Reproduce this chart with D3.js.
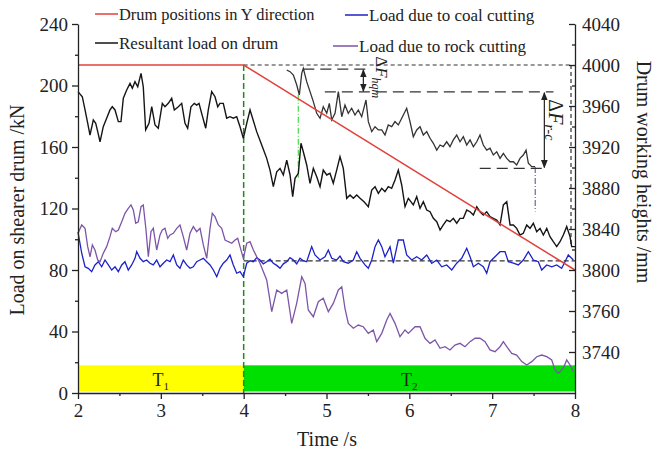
<!DOCTYPE html>
<html><head><meta charset="utf-8">
<script src="https://cdn.jsdelivr.net/npm/d3@7"></script>
<style>
body{margin:0;background:#fff}
svg{display:block}
svg text{font-family:'Liberation Serif',serif !important;fill:#222}
</style>
</head><body>
<svg id="c" width="659" height="453" font-family="Liberation Serif"></svg>
<script>
// ---------- data ----------
const xTicks=[2,3,4,5,6,7,8];
const xMinor=[2.5,3.5,4.5,5.5,6.5,7.5];
const leftTicks=[0,40,80,120,160,200,240];
const leftMinor=[20,60,100,140,180,220];
const rightTicks=[3720,3760,3800,3840,3880,3920,3960,4000,4040];
const rightTickLabels=["3740","3760","3800","3840","3880","3920","3960","4000","4040"];
const rightMinor=[3740,3780,3820,3860,3900,3940,3980,4020];

const drumTime=[2,4,8];
const drumHeight=[4000,4000,3800];

const resultant=[[2.0,196],[2.052,192.7],[2.085,184.1],[2.117,175.6],[2.145,167.8],[2.185,177.6],[2.214,175.4],[2.238,170],[2.266,163.4],[2.305,173.2],[2.346,178.7],[2.386,184.1],[2.414,186.2],[2.447,184.1],[2.487,176.5],[2.519,176.5],[2.547,191.7],[2.588,197.1],[2.628,201.4],[2.656,198.2],[2.688,202.5],[2.721,199.2],[2.761,207.9],[2.788,199.2],[2.817,171.1],[2.857,175.4],[2.89,186.2],[2.93,174.3],[2.969,172.2],[3.018,188.4],[3.05,186.2],[3.09,188.4],[3.131,191.7],[3.163,184.1],[3.211,186.2],[3.252,188.4],[3.292,175.4],[3.324,172.2],[3.364,186.2],[3.404,188.4],[3.433,187.3],[3.461,188.4],[3.493,181.9],[3.542,172.2],[3.573,184.1],[3.614,196],[3.654,192.7],[3.687,186.2],[3.714,188.4],[3.754,188.4],[3.795,178.7],[3.835,179.7],[3.875,178.7],[3.916,179.7],[3.956,173.2],[3.996,165.7],[4.037,175.4],[4.077,184.1],[4.157,170],[4.218,161.3],[4.278,152.6],[4.318,145],[4.358,134.2],[4.399,143.9],[4.439,146.1],[4.479,141.8],[4.52,151.5],[4.56,141.8],[4.592,127.7],[4.62,139.6],[4.66,142.9],[4.692,162.4],[4.72,156.9],[4.761,148.3],[4.801,136.4],[4.841,146.1],[4.882,140.7],[4.922,134.2],[4.961,145],[5.003,141.8],[5.042,142.9],[5.082,136.4],[5.123,145],[5.163,153.7],[5.203,146.1],[5.244,126.6],[5.284,128.8],[5.324,126.6],[5.365,128.8],[5.405,126.6],[5.453,124.4],[5.505,121.2],[5.546,132],[5.586,134.2],[5.626,129.9],[5.667,133.1],[5.706,130.9],[5.746,134.2],[5.787,133.1],[5.827,138.5],[5.867,145],[5.908,135.3],[5.948,121.2],[5.988,126.6],[6.048,122.3],[6.089,127.7],[6.129,120.1],[6.169,124.4],[6.21,119],[6.25,117.9],[6.29,113.6],[6.331,111.4],[6.371,106],[6.41,109.3],[6.451,112.5],[6.491,111.4],[6.531,113.6],[6.572,110.4],[6.612,113.6],[6.652,113.6],[6.693,119],[6.733,117.9],[6.773,115.8],[6.814,121.2],[6.853,117.9],[6.893,115.8],[6.934,117.9],[6.974,114.7],[7.014,113.6],[7.055,112.5],[7.095,109.3],[7.135,122.3],[7.176,124.4],[7.216,109.3],[7.256,109.3],[7.296,107.1],[7.336,102.8],[7.376,103.9],[7.417,109.3],[7.457,107.1],[7.497,110.4],[7.538,104.9],[7.578,107.1],[7.618,102.8],[7.659,107.1],[7.698,101.7],[7.738,98.4],[7.779,95.2],[7.819,98.4],[7.859,102.8],[7.9,108.2],[7.94,101.7],[7.96,95.2],[8.0,95.2]];

const shiftedResultant=[[4.52,210.1],[4.56,209],[4.6,206.8],[4.641,200.3],[4.672,193.8],[4.701,207.9],[4.72,211.2],[4.761,202.5],[4.801,196],[4.841,189.5],[4.882,181.9],[4.922,178.7],[4.961,186.2],[5.003,181.9],[5.034,188.4],[5.063,177.6],[5.103,181.9],[5.143,196],[5.184,179.7],[5.223,187.3],[5.263,181.9],[5.304,185.2],[5.344,180.8],[5.384,184.1],[5.425,179.7],[5.477,190.6],[5.505,176.5],[5.546,170],[5.586,173.2],[5.626,171.1],[5.667,171.1],[5.706,167.8],[5.746,174.3],[5.787,173.2],[5.827,176.5],[5.867,174.3],[5.908,178.7],[5.968,185.2],[6.008,176.5],[6.048,166.7],[6.089,171.1],[6.129,173.2],[6.169,167.8],[6.21,170],[6.25,165.7],[6.29,162.4],[6.331,158],[6.371,161.3],[6.41,160.2],[6.451,163.4],[6.491,160.2],[6.531,164.6],[6.572,167.8],[6.612,163.4],[6.652,166.7],[6.693,161.3],[6.733,164.6],[6.773,160.2],[6.814,163.4],[6.853,167.8],[6.893,161.3],[6.934,158],[6.974,159.2],[7.014,154.8],[7.055,156.9],[7.095,152.6],[7.135,155.9],[7.176,152.6],[7.216,150.4],[7.256,150.4],[7.296,148.3],[7.336,152.6],[7.376,154.8],[7.409,158],[7.437,149.4],[7.478,147.2],[7.518,147.2]];

const coalLoad=[[2.0,104.7],[2.045,90.9],[2.085,82.1],[2.124,81.1],[2.165,78.9],[2.205,83.3],[2.245,85.4],[2.286,82.1],[2.326,86.5],[2.366,83.3],[2.407,80],[2.447,82.1],[2.487,78.9],[2.528,83.3],[2.567,85.4],[2.607,80],[2.648,83.3],[2.688,87.6],[2.709,91.9],[2.749,87.6],[2.788,85.4],[2.829,86.5],[2.869,84.4],[2.909,83.3],[2.95,86.5],[2.99,82.1],[3.03,84.4],[3.071,86.5],[3.111,85.4],[3.151,89.8],[3.192,83.3],[3.231,81.1],[3.271,86.5],[3.312,83.3],[3.352,81.1],[3.392,82.1],[3.433,85.4],[3.473,86.5],[3.513,87.6],[3.554,85.4],[3.594,83.3],[3.634,80],[3.675,75.6],[3.714,81.1],[3.754,84.4],[3.795,86.5],[3.835,89.8],[3.875,83.3],[3.916,77.9],[3.956,78.9],[3.996,75.6],[4.037,84.4],[4.077,86],[4.117,85.4],[4.157,88],[4.197,86.5],[4.237,84],[4.278,85.4],[4.318,87],[4.358,84.4],[4.399,83],[4.439,81.1],[4.479,84],[4.52,85.4],[4.56,88],[4.6,86.5],[4.64,84],[4.68,87.6],[4.72,86],[4.761,85.4],[4.821,95.2],[4.861,89.8],[4.922,86.5],[4.982,88.6],[5.022,93],[5.063,87.6],[5.123,86.5],[5.163,89],[5.203,85.4],[5.263,84.4],[5.324,86.5],[5.365,91.9],[5.405,87.6],[5.465,83.3],[5.505,81.1],[5.546,86.5],[5.586,95.2],[5.626,99.5],[5.667,95.2],[5.706,88.6],[5.767,95.2],[5.807,84.4],[5.867,99.5],[5.927,99.5],[5.968,89.8],[6.029,86.5],[6.089,88.6],[6.149,86.5],[6.21,89.8],[6.27,84.4],[6.331,86.5],[6.391,82.1],[6.451,83.3],[6.512,80],[6.572,84.4],[6.632,87.6],[6.693,94.1],[6.733,88.6],[6.773,82.1],[6.833,84.4],[6.893,82.1],[6.934,77.9],[6.974,85.4],[7.034,88.6],[7.095,91.9],[7.155,91.9],[7.195,85.4],[7.256,84.4],[7.316,83.3],[7.376,86.5],[7.437,91.9],[7.497,86.5],[7.557,85.4],[7.598,80],[7.659,83.3],[7.719,82.1],[7.779,83.3],[7.839,81.1],[7.879,85.4],[7.919,89.8],[7.98,86.5]];

const rockLoad=[[2.0,103.9],[2.045,109.3],[2.085,107.1],[2.117,95.2],[2.145,88.6],[2.173,96.3],[2.205,93],[2.238,86.5],[2.266,85.4],[2.305,90.9],[2.346,95.2],[2.386,101.7],[2.414,107.1],[2.455,104.9],[2.487,106],[2.528,111.4],[2.567,116.9],[2.607,120.1],[2.64,122.3],[2.668,119],[2.697,110.4],[2.728,111.4],[2.761,121.2],[2.788,122.3],[2.821,106],[2.849,88.6],[2.881,104.9],[2.909,107.1],[2.95,93],[2.99,102.8],[3.018,106],[3.05,107.1],[3.083,100.6],[3.111,102.8],[3.151,103.9],[3.192,107.1],[3.231,109.3],[3.271,101.7],[3.312,93],[3.352,103.9],[3.392,108.2],[3.433,104.9],[3.473,107.1],[3.513,96.3],[3.554,87.6],[3.594,107.1],[3.621,116.9],[3.654,114.7],[3.694,109.3],[3.735,107.1],[3.775,99.5],[3.815,98.4],[3.856,97.4],[3.896,99.5],[3.928,100.6],[3.956,95.2],[3.996,87.6],[4.037,97.4],[4.077,98.4],[4.117,93],[4.197,84.4],[4.278,73.5],[4.339,52.9],[4.399,67],[4.459,64.8],[4.52,67],[4.58,45.3],[4.64,58.3],[4.701,75.6],[4.741,71.3],[4.78,54],[4.841,49.6],[4.901,59.4],[4.961,61.6],[5.022,52.9],[5.082,58.3],[5.143,67],[5.184,69.1],[5.223,55.1],[5.263,45.3],[5.324,42.1],[5.384,44.2],[5.444,43.1],[5.505,38.8],[5.565,41],[5.606,33.4],[5.667,38.8],[5.727,47.5],[5.767,51.8],[5.827,45.3],[5.887,36.6],[5.948,41],[5.988,38.8],[6.069,43.1],[6.129,43.1],[6.189,35.6],[6.25,32.3],[6.31,34.5],[6.371,29.1],[6.431,30.1],[6.491,28],[6.551,31.2],[6.612,32.3],[6.672,30.1],[6.733,33.4],[6.793,35.6],[6.853,35.6],[6.914,33.4],[6.974,28],[7.034,26.9],[7.095,30.1],[7.135,33.4],[7.176,30.1],[7.236,25.8],[7.296,24.7],[7.357,20.4],[7.417,18.2],[7.478,20.4],[7.538,23.6],[7.598,24.7],[7.659,23.6],[7.719,21.5],[7.759,15],[7.799,12.8],[7.859,16.1],[7.9,21.5],[7.94,18.2],[7.98,13.9]];

const phases=[{name:"T",sub:"1",start:2,end:4,low:1,high:18},{name:"T",sub:"2",start:4,end:8,low:1,high:18}];
const meanCoalLoad=86;
const legendNames=["Drum positions in Y direction","Resultant load on drum","Load due to coal cutting","Load due to rock cutting"];

// ---------- layout ----------
const FONT="'Liberation Serif', serif";
const svg=d3.select("#c");
const x=d3.scaleLinear().domain([2,8]).range([78,575]);
const yL=d3.scaleLinear().domain([0,240]).range([393,24]);
const yR=d3.scaleLinear().domain([3680,4040]).range([393,24]);
const COL={red:"#e2413b",black:"#151515",blue:"#1c22c8",purple:"#7d55a8",yellow:"#ffff00",green:"#00e000"};
const bandColors=[COL.yellow,COL.green];

// bands
phases.forEach((p,i)=>{
  svg.append("rect").attr("x",x(p.start)).attr("y",yL(p.high)).attr("width",x(p.end)-x(p.start)).attr("height",yL(p.low)-yL(p.high)).attr("fill",bandColors[i]);
  const t=svg.append("text").attr("x",x((p.start+p.end)/2)).attr("y",yL(p.low)-5).attr("text-anchor","middle").style("font-size","18px");
  t.append("tspan").text(p.name);
  t.append("tspan").attr("dy",4).style("font-size","11px").text(p.sub);
});

// reference dashed lines
const topH=drumHeight[0];
const dash=(x1,y1,x2,y2,col,da,w)=>svg.append("line").attr("x1",x1).attr("y1",y1).attr("x2",x2).attr("y2",y2).attr("stroke",col).attr("stroke-width",w||1.2).attr("stroke-dasharray",da);
dash(x(4),yR(topH),x(8)-3,yR(topH),"#333","4,3");
dash(x(8)-4,yR(topH),x(8)-4,yL(95),"#333","4,3");
dash(x(4),yL(meanCoalLoad),x(8),yL(meanCoalLoad),"#333","5,3");
dash(x(4),yR(topH),x(4),yL(0),"#1f8a1f","6,3",1.5);
dash(x(4.66),yL(194),x(4.66),yL(140),"#55dd55","6,2,1,2",1.3);
dash(x(7.52),yL(147),x(7.52),yL(118),"#6a6aa8","6,2,1,2",1.2);
// delta lines
dash(x(4.72),yL(210.7),x(5.49),yL(210.7),"#333","11,6",1.3);
dash(x(4.98),yL(195.8),x(7.74),yL(195.8),"#333","11,6",1.3);
dash(x(6.85),yL(146.1),x(7.67),yL(146.1),"#333","11,6",1.3);

// arrows
const defs=svg.append("defs");
defs.append("marker").attr("id","ah").attr("viewBox","0 0 10 10").attr("refX",9).attr("refY",5).attr("markerWidth",7).attr("markerHeight",7).attr("orient","auto-start-reverse")
  .append("path").attr("d","M0,1L10,5L0,9Z").attr("fill","#222");
const arrow=(t,v1,v2)=>svg.append("line").attr("x1",x(t)).attr("y1",yL(v1)).attr("x2",x(t)).attr("y2",yL(v2)).attr("stroke","#222").attr("stroke-width",1.2).attr("marker-start","url(#ah)").attr("marker-end","url(#ah)");
arrow(5.445,210.2,196.3);
arrow(7.63,195.3,146.6);

const dLabel=(t,v,sub,fs,sfs)=>{
  const g=svg.append("text").attr("transform",`translate(${x(t)},${yL(v)}) rotate(90)`).style("font-size",fs).style("font-style","italic");
  g.append("tspan").style("font-style","normal").text("Δ");
  g.append("tspan").text("F");
  g.append("tspan").attr("dy",4).style("font-size",sfs).text(sub);
};
dLabel(5.6,219,"hqm","17px","12px");
dLabel(7.69,191,"r-c","20px","14px");

// curves
const line=d3.line().x(d=>x(d[0])).y(d=>yL(d[1]));
svg.append("path").datum(coalLoad).attr("d",line).attr("fill","none").attr("stroke",COL.blue).attr("stroke-width",1.3);
svg.append("path").datum(rockLoad).attr("d",line).attr("fill","none").attr("stroke",COL.purple).attr("stroke-width",1.3);
svg.append("path").datum(resultant).attr("d",line).attr("fill","none").attr("stroke",COL.black).attr("stroke-width",1.4);
svg.append("path").datum(shiftedResultant).attr("d",line).attr("fill","none").attr("stroke","#333").attr("stroke-width",1.3);
const drumLine=d3.line().x((d,i)=>x(drumTime[i])).y(d=>yR(d));
svg.append("path").datum(drumHeight).attr("d",drumLine).attr("fill","none").attr("stroke",COL.red).attr("stroke-width",1.5);

// axes
const fs="19px";
const styleAxis=g=>{g.attr("font-family",FONT).attr("font-size",19);g.selectAll("path,line").attr("stroke","#222").attr("stroke-width",1.3);g.selectAll("text").attr("font-family",FONT).style("font-size",fs).attr("fill","#222");};
svg.append("g").attr("transform","translate(0,393)").call(d3.axisBottom(x).tickValues(xTicks).tickSize(6).tickSizeOuter(0).tickPadding(5).tickFormat(d3.format("d"))).call(styleAxis);
svg.append("g").attr("transform","translate(0,393)").call(d3.axisBottom(x).tickValues(xMinor).tickSize(3).tickSizeOuter(0).tickFormat("")).call(styleAxis).select(".domain").remove();
svg.append("g").attr("transform","translate(78,0)").call(d3.axisLeft(yL).tickValues(leftTicks).tickSize(6).tickSizeOuter(0).tickPadding(4)).call(styleAxis);
svg.append("g").attr("transform","translate(78,0)").call(d3.axisLeft(yL).tickValues(leftMinor).tickSize(3).tickSizeOuter(0).tickFormat("")).call(styleAxis).select(".domain").remove();
svg.append("g").attr("transform","translate(575,0)").call(d3.axisRight(yR).tickValues(rightTicks).tickSizeInner(-6).tickSizeOuter(0).tickPadding(7).tickFormat((d,i)=>rightTickLabels[i])).call(styleAxis);
svg.append("g").attr("transform","translate(575,0)").call(d3.axisRight(yR).tickValues(rightMinor).tickSizeInner(-3).tickSizeOuter(0).tickFormat("")).call(styleAxis).select(".domain").remove();

// axis titles
svg.append("text").attr("transform","translate(24,210) rotate(-90)").attr("text-anchor","middle").style("font-size","20px").text("Load on shearer drum /kN");
svg.append("text").attr("transform","translate(637,172) rotate(90)").attr("text-anchor","middle").style("font-size","20px").text("Drum working heights /mm");
svg.append("text").attr("x",327).attr("y",446).attr("text-anchor","middle").style("font-size","20px").text("Time /s");

// legend
const legend=[{c:COL.red,x1:95,x2:118,y:14},{c:COL.black,x1:95,x2:118,y:43},{c:COL.blue,x1:345,x2:368,y:15},{c:COL.purple,x1:333,x2:358,y:46}];
legend.forEach((l,i)=>{
  svg.append("line").attr("x1",l.x1).attr("x2",l.x2).attr("y1",l.y).attr("y2",l.y).attr("stroke",l.c).attr("stroke-width",1.5);
  svg.append("text").attr("x",l.x2+1).attr("y",l.y+6).style("font-size",i===0?"16.4px":"17px").text(legendNames[i]);
});
svg.selectAll("text").attr("font-family",FONT);
</script>
</body></html>
